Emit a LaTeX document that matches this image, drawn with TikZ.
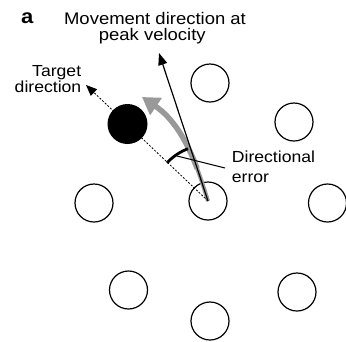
\documentclass[tikz,border=0pt]{standalone}
\usepackage{fontspec}
\setmainfont{Liberation Sans}[FakeStretch=1.1]
\usetikzlibrary{arrows.meta}
\begin{document}
\begin{tikzpicture}[x=1pt,y=-1pt,
  target/.style={circle,draw,line width=1.2pt,minimum size=38pt,inner sep=0pt},
  goal/.style={circle,fill=black,minimum size=40pt,inner sep=0pt},
  lbl/.style={inner sep=0pt,font=\fontsize{16}{19}\selectfont},
  toplbl/.style={inner sep=0pt,font=\fontsize{16.8}{19}\selectfont},
  blackarrow/.style={line width=1.2pt,-{Triangle[length=12pt,width=9pt]}},
  dasharrow/.style={line width=0.8pt,dash pattern=on 2pt off 1.6pt,-{Triangle[length=11pt,width=9pt]}},
  grayline/.style={line width=4pt,color=gray!80},
  grayarrow/.style={line width=5.5pt,color=gray!80,-{Triangle[length=17pt,width=20pt]}},
  errarc/.style={line width=2.8pt},
  leader/.style={line width=1pt}
]
\useasboundingbox (0,0) rectangle (346,341);
% targets
\node[target] (tc) at (208,201) {};
\node[target] (tn) at (210,83) {};
\node[target] (tne) at (294,122) {};
\node[target] (te) at (327.5,203) {};
\node[target] (tse) at (297,292) {};
\node[target] (ts) at (210,321) {};
\node[target] (tsw) at (128.5,290) {};
\node[target] (tw) at (94,203) {};
\coordinate (o) at (208,201);
\coordinate (tgtTip) at (86,85);
\coordinate (velTip) at (159,53);
\coordinate (grayMid) at (197.12,168.44);
\coordinate (grayTip) at (142,97);
% movement paths
\draw[grayline] (o) .. controls (204.25,189) and (200.81,178.25) .. (grayMid);
\draw[grayarrow] (grayMid) .. controls (186.06,139) and (172.75,118) .. (grayTip);
\draw[blackarrow] (o) -- (velTip);
\draw[dasharrow] (o) -- (tgtTip);
\node[goal] (tnw) at (127.5,124) {};
% directional error
\draw[errarc] (o) ++(-137:56) arc[start angle=-137,end angle=-111,radius=56];
\coordinate (leadA) at (177,156);
\coordinate (leadB) at (225,168);
\draw[leader] (leadA) -- (leadB);
% labels
\node[inner sep=0pt,anchor=base west,font=\fontsize{20}{22}\bfseries] (pa) at (21,23.3) {a};
\node[toplbl,anchor=base] (m1) at (155,24.3) {Movement direction at};
\node[toplbl,anchor=base] (m2) at (152.3,40.5) {peak velocity};
\node[lbl,anchor=base] (g1) at (56.7,76) {Target};
\node[lbl,anchor=base] (g2) at (48,92.3) {direction};
\node[lbl,anchor=base west] (d1) at (231.7,162.7) {Directional};
\node[lbl,anchor=base west] (d2) at (231.7,182) {error};
\end{tikzpicture}
\end{document}
